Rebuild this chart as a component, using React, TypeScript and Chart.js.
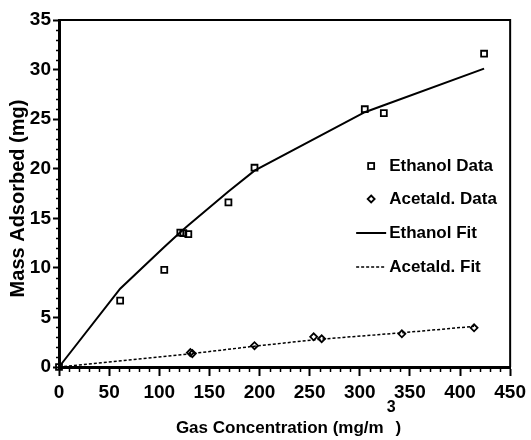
import React, { useEffect, useRef } from "react";
import { Chart, registerables } from "chart.js";

Chart.register(...registerables);

// ---- data ----
const ethanolX = [0, 61, 105, 121, 124, 129, 169, 195, 305, 324, 424];
const ethanolY = [0, 6.7, 9.8, 13.55, 13.5, 13.4, 16.6, 20.1, 26.0, 25.6, 31.6];

const acetaldX = [131, 133, 195, 254, 262, 342, 414];
const acetaldY = [1.45, 1.35, 2.15, 3.05, 2.85, 3.35, 3.95];

const ethanolFitX = [0, 61, 105, 121, 129, 169, 195, 305, 324, 424];
const ethanolFitY = [0, 7.9, 12.1, 13.6, 14.3, 17.7, 19.8, 25.7, 26.4, 30.1];

const acetaldFitX = [0, 131, 195, 258, 342, 414];
const acetaldFitY = [0, 1.33, 2.1, 2.78, 3.45, 4.1];

const xMajorTicks = [0, 50, 100, 150, 200, 250, 300, 350, 400, 450];
const yMajorTicks = [0, 5, 10, 15, 20, 25, 30, 35];
const xMinorStep = 10;
const yMinorStep = 1;

const legendLabels = ["Ethanol Data", "Acetald. Data", "Ethanol Fit", "Acetald. Fit"];
const xTitle = "Gas Concentration (mg/m";
const xTitleSup = "3";
const xTitleEnd = ")";
const yTitle = "Mass Adsorbed (mg)";

const FONT = "'Liberation Sans', Arial, Helvetica, sans-serif";

function pts(xs: number[], ys: number[]) {
  return xs.map((x, i) => ({ x, y: ys[i] }));
}

export default function App() {
  const ref = useRef<HTMLCanvasElement>(null);

  useEffect(() => {
    document.body.style.margin = "0";
    const canvas = ref.current;
    if (!canvas) return;

    const customPlugin = {
      id: "customDecor",
      afterDraw(chart: any) {
        const { ctx, chartArea: a, scales } = chart;
        const xs = scales.x;
        const ys = scales.y;
        ctx.save();
        ctx.strokeStyle = "#000";
        ctx.fillStyle = "#000";

        // top and right frame
        ctx.lineWidth = 2;
        ctx.beginPath();
        ctx.moveTo(a.left, a.top);
        ctx.lineTo(a.right, a.top);
        ctx.lineTo(a.right, a.bottom);
        ctx.stroke();

        // minor ticks
        ctx.lineWidth = 1.5;
        ctx.beginPath();
        for (let v = xs.min; v <= xs.max; v += xMinorStep) {
          if (xMajorTicks.includes(v)) continue;
          const px = Math.round(xs.getPixelForValue(v)) + 0.5;
          ctx.moveTo(px, a.bottom);
          ctx.lineTo(px, a.bottom + 5);
        }
        for (let v = ys.min; v <= ys.max; v += yMinorStep) {
          if (yMajorTicks.includes(v)) continue;
          const py = Math.round(ys.getPixelForValue(v)) + 0.5;
          ctx.moveTo(a.left, py);
          ctx.lineTo(a.left - 3, py);
        }
        ctx.stroke();

        // legend
        const symX = a.right - 139;
        const textX = a.right - 121;
        const rowY = [a.top + 146, a.top + 179, a.top + 213, a.top + 247];
        ctx.font = `bold 17px ${FONT}`;
        ctx.textAlign = "left";
        ctx.textBaseline = "middle";
        legendLabels.forEach((t, i) => ctx.fillText(t, textX, rowY[i]));
        ctx.lineWidth = 1.8;
        // square
        ctx.strokeRect(symX - 3, rowY[0] - 3, 6, 6);
        // diamond
        ctx.beginPath();
        ctx.moveTo(symX, rowY[1] - 3.5);
        ctx.lineTo(symX + 3.5, rowY[1]);
        ctx.lineTo(symX, rowY[1] + 3.5);
        ctx.lineTo(symX - 3.5, rowY[1]);
        ctx.closePath();
        ctx.stroke();
        // solid line
        ctx.lineWidth = 2;
        ctx.beginPath();
        ctx.moveTo(textX - 33, rowY[2]);
        ctx.lineTo(textX - 3, rowY[2]);
        ctx.stroke();
        // dashed line
        ctx.lineWidth = 1.5;
        ctx.setLineDash([3, 2]);
        ctx.beginPath();
        ctx.moveTo(textX - 33, rowY[3]);
        ctx.lineTo(textX - 3, rowY[3]);
        ctx.stroke();
        ctx.setLineDash([]);

        // x title with superscript
        const mainFont = `bold 17px ${FONT}`;
        const supFont = `bold 16px ${FONT}`;
        ctx.font = mainFont;
        const w1 = ctx.measureText(xTitle).width;
        const w3 = ctx.measureText(xTitleEnd).width;
        ctx.font = supFont;
        const w2 = ctx.measureText(xTitleSup).width;
        const gap = 3;
        const total = w1 + gap + w2 + w3;
        let tx = (a.left + a.right) / 2 + 4 - total / 2;
        const ty = a.bottom + 61;
        ctx.textBaseline = "middle";
        ctx.font = mainFont;
        ctx.fillText(xTitle, tx, ty);
        tx += w1 + gap;
        ctx.font = supFont;
        ctx.fillText(xTitleSup, tx, ty - 20);
        tx += w2;
        ctx.font = mainFont;
        ctx.fillText(xTitleEnd, tx, ty);

        // y title
        ctx.save();
        ctx.translate(18, (a.top + a.bottom) / 2 + 5);
        ctx.rotate(-Math.PI / 2);
        ctx.textAlign = "center";
        ctx.textBaseline = "middle";
        ctx.font = `bold 20px ${FONT}`;
        ctx.fillText(yTitle, 0, 0);
        ctx.restore();

        ctx.restore();
      },
    };

    const chart = new Chart(canvas, {
      type: "scatter",
      data: {
        datasets: [
          {
            label: legendLabels[0],
            data: pts(ethanolX, ethanolY),
            pointStyle: "rect",
            pointRadius: 4.2,
            borderColor: "#000",
            backgroundColor: "rgba(0,0,0,0)",
            borderWidth: 1.8,
            showLine: false,
            clip: false,
          },
          {
            label: legendLabels[1],
            data: pts(acetaldX, acetaldY),
            pointStyle: "rectRot",
            pointRadius: 3.5,
            borderColor: "#000",
            backgroundColor: "rgba(0,0,0,0)",
            borderWidth: 1.8,
            showLine: false,
            clip: false,
          },
          {
            label: legendLabels[2],
            data: pts(ethanolFitX, ethanolFitY),
            showLine: true,
            pointRadius: 0,
            borderColor: "#000",
            borderWidth: 2,
            fill: false,
            clip: false,
          },
          {
            label: legendLabels[3],
            data: pts(acetaldFitX, acetaldFitY),
            showLine: true,
            pointRadius: 0,
            borderColor: "#000",
            borderWidth: 1.5,
            borderDash: [3, 2],
            fill: false,
            clip: false,
          },
        ],
      },
      options: {
        animation: false,
        responsive: false,
        maintainAspectRatio: false,
        events: [],
        layout: { padding: { left: 0, right: 15, top: 20, bottom: 0 } },
        plugins: {
          legend: { display: false },
          tooltip: { enabled: false },
          title: { display: false },
        },
        scales: {
          x: {
            type: "linear",
            min: 0,
            max: 450,
            afterBuildTicks: (s: any) => {
              s.ticks = xMajorTicks.map((v) => ({ value: v }));
            },
            ticks: {
              color: "#000",
              font: { size: 19, weight: "bold", family: FONT },
              padding: 5,
              maxRotation: 0,
              autoSkip: false,
            },
            grid: {
              drawOnChartArea: false,
              drawTicks: true,
              tickLength: 9,
              tickWidth: 2,
              tickColor: "#000",
              color: "#000",
            },
            border: { display: true, width: 3, color: "#000" },
            afterFit: (s: any) => {
              s.height = 73;
            },
          },
          y: {
            type: "linear",
            min: 0,
            max: 35,
            afterBuildTicks: (s: any) => {
              s.ticks = yMajorTicks.map((v) => ({ value: v }));
            },
            ticks: {
              color: "#000",
              font: { size: 19, weight: "bold", family: FONT },
              padding: 2,
              autoSkip: false,
            },
            grid: {
              drawOnChartArea: false,
              drawTicks: true,
              tickLength: 6,
              tickWidth: 2,
              tickColor: "#000",
              color: "#000",
            },
            border: { display: true, width: 3, color: "#000" },
            afterFit: (s: any) => {
              s.width = 59;
            },
          },
        },
      },
      plugins: [customPlugin],
    } as any);

    return () => chart.destroy();
  }, []);

  return (
    <div style={{ position: "absolute", left: 0, top: 0, width: 531, height: 440 }}>
      <canvas ref={ref} width={531} height={440} style={{ display: "block", width: 531, height: 440 }} />
    </div>
  );
}
